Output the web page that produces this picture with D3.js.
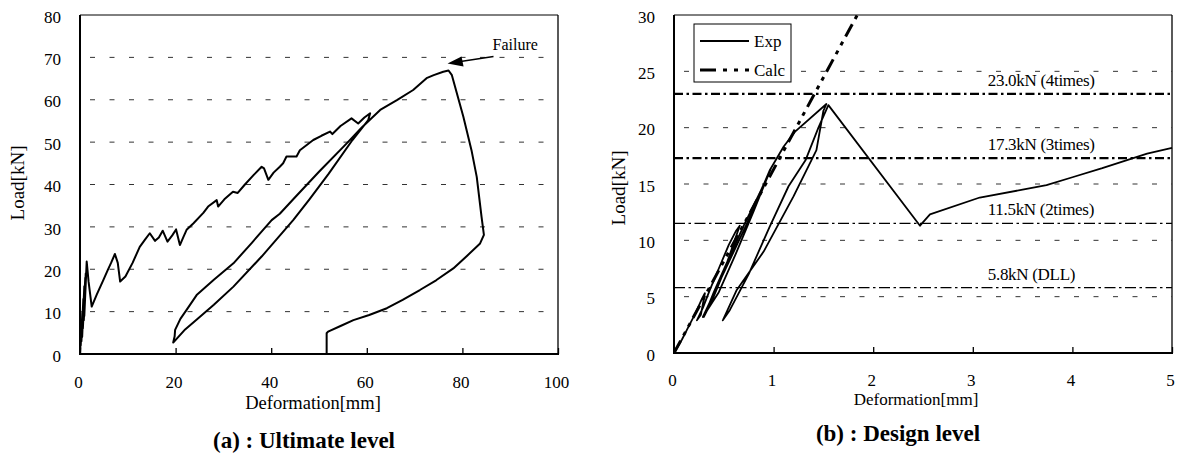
<!DOCTYPE html>
<html>
<head>
<meta charset="utf-8">
<script src="https://cdn.jsdelivr.net/npm/d3@7"></script>
<style>
  body { margin: 0; background: #fff; }
  text { font-family: "Liberation Serif", "Times New Roman", serif; fill: #000; }
</style>
</head>
<body>
<script>
// (a) ultimate level : one load-deformation path [mm, kN]
let ultimate = [
  [0,0],[0.3,6],[0.15,2],[0.5,10],[0.3,3],[0.7,13],[0.45,4],[0.9,16],[0.6,6],[1.1,18],[0.8,8],[1.2,19],
  [0.9,9],[1.4,21.8],[1.8,17],[2.45,11.2],
  [3.5,14],[4.9,17.5],[5.8,19.8],[6.5,21.5],[7.3,23.6],[7.9,21.5],[8.4,17.1],[9.5,18.3],[11,21.5],[12.5,25.3],
  [13.6,27],[14.6,28.5],[15.7,26.7],[16.5,27.5],[17.3,29.1],[18.3,26.5],[19.3,28],[20.1,29.4],[20.9,25.7],
  [21.6,27.5],[22.3,29.3],[23.7,30.8],[25.8,33.3],[26.8,34.8],[28.6,36.3],[28.9,34.8],[30.2,36.5],[32,38.3],
  [33,38.0],[34.5,40],[36.3,42.2],[38,44.2],[38.5,43.8],[39.4,41.1],[40.5,42.8],[41.8,44.2],[42.5,45],
  [43.2,46.6],[45.3,46.6],[46,48.1],[48.8,50.5],[50.5,51.5],[52.3,52.5],[52.8,51.9],[54.5,53.8],[56.8,55.6],
  [58.2,54.4],[59.5,55.8],[60.7,56.8],
  [60.3,55.2],[57,50.5],[52,42.5],[48,36.5],[44.6,31.6],[38,23],[32.1,15.9],[28,11.6],[25.1,8.8],[22,5.8],[19.5,2.7],
  [19.8,4.2],[19.9,5.7],[21,8.3],[22.3,10.4],[24.4,13.9],[28,17.5],[32.1,21.4],[36,26.3],[40.1,31.6],[41.8,33.1],
  [45,37],[50,43],[55.8,49.7],[59,53.5],[62.8,57.6],[66.3,59.9],[69.7,62.3],[72.5,65.1],[74,65.8],[76,66.6],
  [77.1,66.9],[77.8,65.8],[80.2,56.0],[81.9,48.1],[83.0,41.8],[84.0,32.4],[84.5,28.1],[83.7,26.1],[81,23.2],
  [78.1,20.2],[74.5,17.4],[71.1,15.1],[67.5,12.8],[64.2,10.8],[60.5,9.2],[57.2,8.0],[54.5,6.6],[51.9,5.3],
  [51.6,4.9],[51.6,0]
]
let failure = [77.1, 66.9]

// (b) design level
let designExp = [
  [0,0],[0.08,1.2],[0.15,2.4],[0.22,3.6],[0.28,4.8],[0.31,5.3],[0.27,3.4],[0.23,2.9],[0.29,4.0],[0.36,5.6],
  [0.45,7.5],[0.55,9.6],[0.62,10.8],[0.66,11.3],[0.5,7.2],[0.38,4.6],[0.3,3.2],[0.4,5.4],[0.55,8.4],
  [0.7,11.3],[0.85,14.0],[0.97,16.3],[0.8,12.6],[0.62,8.8],[0.45,5.4],[0.29,3.2],[0.45,6.2],[0.6,9.0],
  [0.78,12.4],[0.96,16.2],[1.1,18.3],[1.21,19.6],[1.53,22.1],
  [1.50,21.5],[1.43,18.0],[1.2,13.9],[0.9,9.0],[0.63,5.6],[0.49,2.9],
  [0.56,3.8],[0.75,7.0],[0.96,11.2],[1.15,14.8],[1.32,17.1],[1.45,20.0],[1.55,22.0],
  [2.47,11.3],[2.57,12.3],[3.07,13.8],[3.5,14.5],[3.74,14.9],[4.0,15.6],[4.3,16.4],[4.75,17.7],[5.0,18.2]
]
let designCalc = [[0,0],[1.84,30]]
let refLoads = [23.0, 17.3, 11.5, 5.8]
let refLabels = ["23.0kN (4times)", "17.3kN (3times)", "11.5kN (2times)", "5.8kN (DLL)"]

let svg = d3.select("body").append("svg")
  .attr("width", 1182)
  .attr("height", 456)

function panel(o){
  let x = d3.scaleLinear().domain(o.xDomain).range([o.left, o.right])
  let y = d3.scaleLinear().domain(o.yDomain).range([o.bottom, o.top])
  let g = svg.append("g")

  // dashed grid
  g.selectAll(".grid").data(o.grid).join("line")
    .attr("x1", o.left).attr("x2", o.right)
    .attr("y1", d=>y(d)).attr("y2", d=>y(d))
    .attr("stroke", "#333").attr("stroke-width", 1)
    .attr("stroke-dasharray", "5,14.5").attr("stroke-dashoffset", 9.5)

  let xa = g.append("g").attr("transform", `translate(0,${o.bottom})`)
    .call(d3.axisBottom(x).tickValues(o.xTicks).tickSize(-6).tickPadding(o.xPad).tickFormat(d3.format("d")))
  xa.select(".domain").remove()
  xa.selectAll("line").attr("stroke-width", 1.3)
  xa.selectAll("text").style("font-size", "17px").style("font-family", "Liberation Serif")
    .attr("dx", "-2")

  let ya = g.append("g").attr("transform", `translate(${o.left},0)`)
    .call(d3.axisLeft(y).tickValues(o.yTicks).tickSize(0).tickPadding(19))
  ya.select(".domain").remove()
  ya.selectAll("text").style("font-size", "17px").style("font-family", "Liberation Serif")
    .attr("dy", "0.42em")

  // frame
  g.append("line").attr("x1", o.left).attr("x2", o.right).attr("y1", o.top).attr("y2", o.top)
    .attr("stroke", "#000").attr("stroke-width", 1)
  g.append("line").attr("x1", o.right).attr("x2", o.right).attr("y1", o.top).attr("y2", o.bottom)
    .attr("stroke", "#000").attr("stroke-width", 1.3)
  g.append("line").attr("x1", o.left).attr("x2", o.left).attr("y1", o.top).attr("y2", o.bottom+1)
    .attr("stroke", "#000").attr("stroke-width", 2)
  g.append("line").attr("x1", o.left-1).attr("x2", o.right+1).attr("y1", o.bottom).attr("y2", o.bottom)
    .attr("stroke", "#000").attr("stroke-width", 2)

  g.append("text").attr("transform", `translate(${o.yLab[0]},${o.yLab[1]}) rotate(-90)`)
    .attr("text-anchor", "middle").style("font-size", "19px").text("Load[kN]")
  g.append("text").attr("x", o.xLab[0]).attr("y", o.xLab[1])
    .attr("text-anchor", "middle").style("font-size", o.xLabSize).text("Deformation[mm]")
  g.append("text").attr("x", o.title[0]).attr("y", o.title[1])
    .attr("text-anchor", "middle").style("font-size", "23px").style("font-weight", "bold")
    .text(o.titleText)
  return {x, y, g}
}

// ---------- (a) ----------
let a = panel({
  left: 80, right: 558, top: 15, bottom: 354,
  xDomain: [0,100], yDomain: [0,80],
  xTicks: d3.range(0,101,20), yTicks: d3.range(0,81,10), grid: d3.range(10,71,10),
  xPad: 22, yLab: [24,183], xLab: [313,409], xLabSize: "18.5px",
  title: [304,448], titleText: "(a) : Ultimate level"
})
let lineA = d3.line().x(d=>a.x(d[0])).y(d=>a.y(d[1]))
a.g.append("path").datum(ultimate).attr("d", lineA)
  .attr("fill", "none").attr("stroke", "#000").attr("stroke-width", 2).attr("stroke-linejoin", "round")

// failure callout
let fx = a.x(failure[0]), fy = a.y(failure[1])
a.g.append("line").attr("x1", fx+45).attr("y1", fy-14).attr("x2", fx+12).attr("y2", fy-9)
  .attr("stroke", "#000").attr("stroke-width", 1.3)
a.g.append("path")
  .attr("d", `M${fx-1},${fy-7} L${fx+13},${fy-14} L${fx+15},${fy-4} Z`)
  .attr("fill", "#000")
a.g.append("text").attr("x", fx+44).attr("y", fy-21).style("font-size", "16px").text("Failure")

// ---------- (b) ----------
let b = panel({
  left: 674, right: 1172, top: 15, bottom: 353,
  xDomain: [0,5], yDomain: [0,30],
  xTicks: d3.range(0,6,1), yTicks: d3.range(0,31,5), grid: d3.range(5,26,5),
  xPad: 21, yLab: [625,188], xLab: [916,405], xLabSize: "17px",
  title: [898,441], titleText: "(b) : Design level"
})

b.g.selectAll(".ref").data(refLoads).join("line")
  .attr("x1", b.x(0)).attr("x2", b.x(5))
  .attr("y1", d=>b.y(d)).attr("y2", d=>b.y(d))
  .attr("stroke", "#000")
  .attr("stroke-width", (d,i)=> i<2 ? 2.4 : 1.2)
  .attr("stroke-dasharray", (d,i)=> i<2 ? "9,3.5,2.5,3.5" : "11,3.5,2.5,3.5")
b.g.selectAll(".reflab").data(refLabels).join("text")
  .attr("x", b.x(3.15)).attr("y", (d,i)=>b.y(refLoads[i])-8)
  .style("font-size", "17px").style("letter-spacing", "-0.3px").text(d=>d)

b.g.append("clipPath").attr("id", "clipB").append("rect")
  .attr("x", 674).attr("y", 15).attr("width", 498).attr("height", 338)
let lineB = d3.line().x(d=>b.x(d[0])).y(d=>b.y(d[1]))
b.g.append("path").datum(designCalc).attr("d", lineB).attr("clip-path", "url(#clipB)")
  .attr("fill", "none").attr("stroke", "#000").attr("stroke-width", 3)
  .attr("stroke-dasharray", "14,6,4,6,4,6")
b.g.append("path").datum(designExp).attr("d", lineB)
  .attr("fill", "none").attr("stroke", "#000").attr("stroke-width", 1.8).attr("stroke-linejoin", "round")

// legend
let leg = b.g.append("g").attr("transform", "translate(694,24)")
leg.append("rect").attr("width", 97).attr("height", 58)
  .attr("fill", "#fff").attr("stroke", "#000").attr("stroke-width", 1)
leg.append("line").attr("x1", 6).attr("x2", 55).attr("y1", 17).attr("y2", 17)
  .attr("stroke", "#000").attr("stroke-width", 2)
leg.append("line").attr("x1", 6).attr("x2", 55).attr("y1", 46).attr("y2", 46)
  .attr("stroke", "#000").attr("stroke-width", 3).attr("stroke-dasharray", "16,7,4,7,4,7")
leg.append("text").attr("x", 60).attr("y", 23).style("font-size", "17px").text("Exp")
leg.append("text").attr("x", 60).attr("y", 52).style("font-size", "17px").text("Calc")
</script>
</body>
</html>
